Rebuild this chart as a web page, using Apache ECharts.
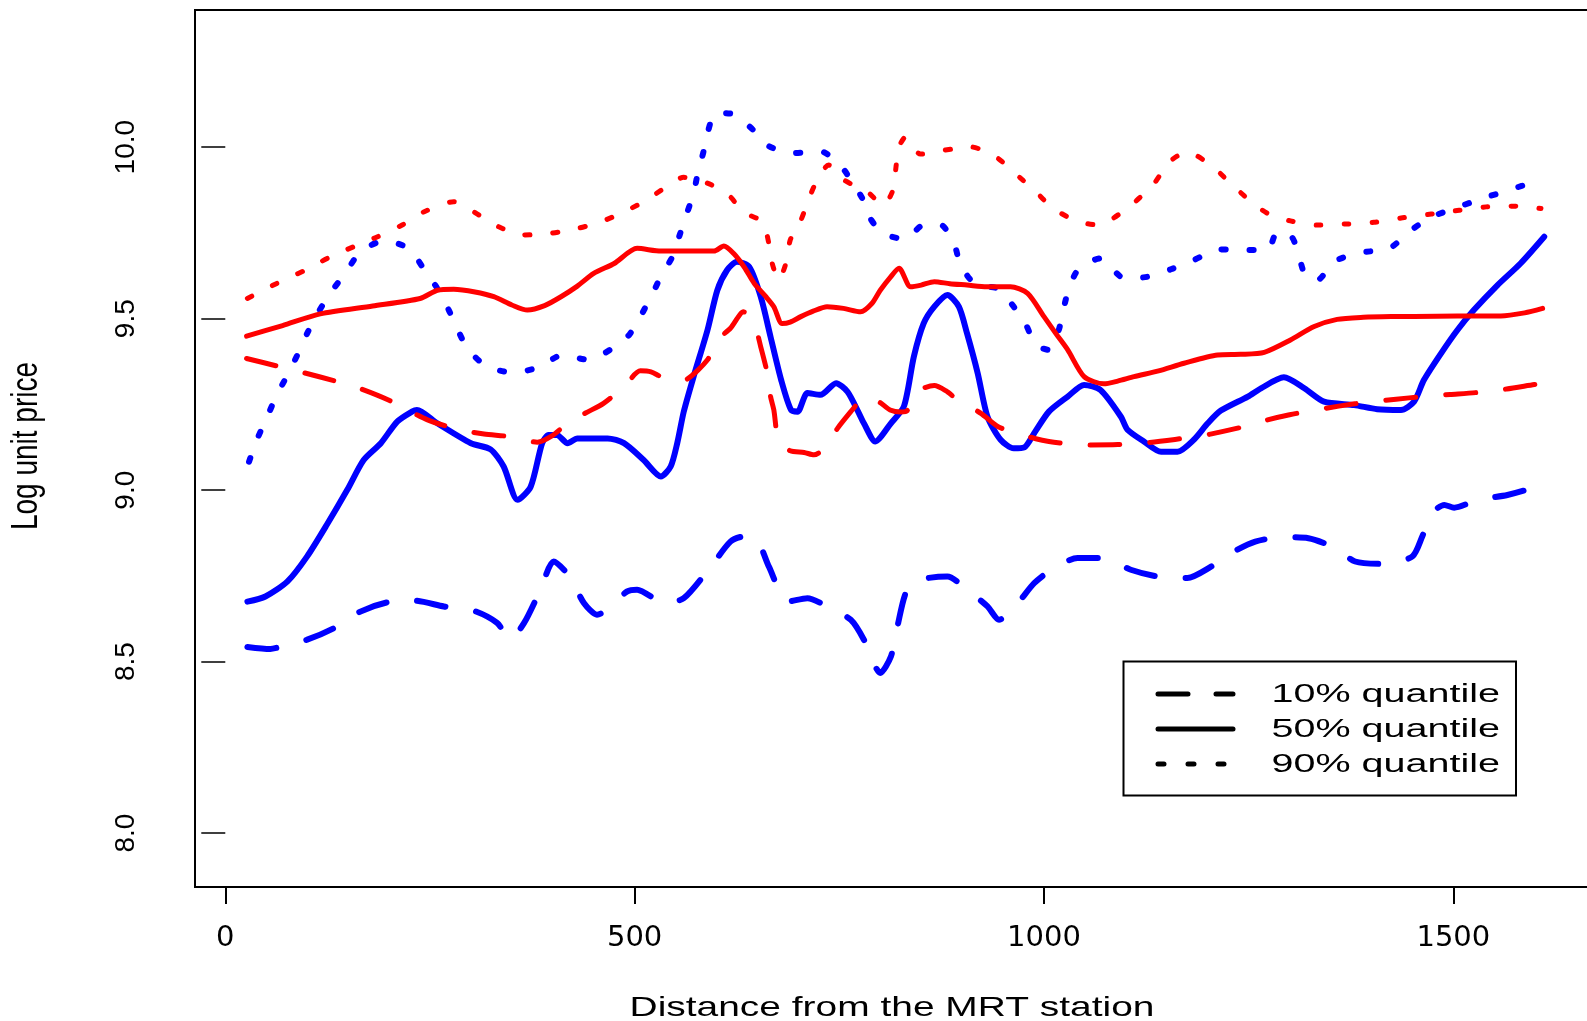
<!DOCTYPE html>
<html><head><meta charset="utf-8">
<script src="https://cdn.jsdelivr.net/npm/echarts@6.0.0/dist/echarts.min.js"></script>
<style>html,body{margin:0;padding:0;background:#fff;overflow:hidden}#chart{width:1587px;height:1021px}</style>
</head><body><div id="chart"></div>
<script>
const xTicks = [0, 500, 1000, 1500];
const xTickLabels = ['0', '500', '1000', '1500'];
const yTicks = [8.0, 8.5, 9.0, 9.5, 10.0];
const yTickLabels = ['8.0', '8.5', '9.0', '9.5', '10.0'];
const xTitle = 'Distance from the MRT station';
const yTitle = 'Log unit price';
const legendLabels = ['10% quantile', '50% quantile', '90% quantile'];

const red50 = [[26,9.449],[70,9.48],[116,9.514],[180,9.537],[238,9.559],[259,9.583],[279,9.586],[305,9.578],[328,9.564],[350,9.540],[369,9.525],[390,9.538],[410,9.564],[430,9.595],[450,9.632],[475,9.661],[503,9.705],[532,9.697],[565,9.697],[597,9.697],[609,9.712],[621,9.690],[634,9.650],[646,9.603],[660,9.565],[670,9.535],[680,9.486],[690,9.490],[703,9.506],[718,9.522],[735,9.535],[755,9.530],[776,9.520],[790,9.545],[800,9.583],[812,9.620],[823,9.647],[837,9.593],[850,9.598],[866,9.608],[885,9.602],[906,9.598],[930,9.593],[959,9.593],[980,9.574],[1000,9.506],[1015,9.455],[1029,9.409],[1049,9.331],[1073,9.310],[1090,9.318],[1110,9.331],[1140,9.348],[1171,9.370],[1212,9.394],[1240,9.396],[1269,9.402],[1301,9.438],[1330,9.477],[1358,9.498],[1390,9.504],[1424,9.506],[1480,9.507],[1530,9.508],[1558,9.508],[1587,9.517],[1609,9.530]];

const red10 = [[26,9.384],[63,9.362],[116,9.330],[160,9.300],[200,9.262],[247,9.205],[287,9.176],[316,9.164],[348,9.156],[381,9.140],[400,9.160],[418,9.195],[440,9.225],[462,9.253],[487,9.302],[507,9.348],[520,9.345],[532,9.331],[550,9.318],[565,9.325],[589,9.380],[601,9.438],[617,9.472],[633,9.520],[646,9.486],[654,9.418],[662,9.341],[666,9.273],[670,9.234],[676,9.142],[690,9.115],[707,9.110],[719,9.103],[733,9.125],[748,9.181],[764,9.229],[776,9.262],[786,9.273],[800,9.255],[812,9.234],[825,9.228],[833,9.232],[847,9.290],[866,9.305],[880,9.290],[892,9.268],[908,9.245],[923,9.224],[944,9.185],[968,9.166],[990,9.150],[1006,9.142],[1030,9.135],[1057,9.132],[1090,9.133],[1128,9.139],[1160,9.148],[1196,9.160],[1244,9.185],[1273,9.205],[1300,9.220],[1328,9.232],[1360,9.245],[1399,9.258],[1430,9.265],[1462,9.273],[1496,9.279],[1530,9.285],[1565,9.295],[1599,9.308],[1611,9.312]];

const red90 = [[27,9.559],[63,9.603],[98,9.642],[128,9.680],[157,9.710],[186,9.739],[216,9.773],[243,9.812],[279,9.841],[310,9.802],[334,9.768],[363,9.744],[397,9.749],[430,9.763],[458,9.782],[483,9.807],[511,9.841],[536,9.880],[560,9.912],[576,9.905],[593,9.891],[617,9.855],[632,9.812],[656,9.782],[664,9.719],[668,9.661],[676,9.613],[686,9.671],[690,9.729],[703,9.787],[713,9.851],[723,9.904],[737,9.948],[756,9.904],[784,9.870],[804,9.831],[817,9.884],[819,9.938],[823,10.001],[831,10.030],[849,9.980],[878,9.991],[910,10.001],[941,9.972],[965,9.923],[988,9.875],[1010,9.824],[1039,9.785],[1067,9.773],[1096,9.812],[1118,9.855],[1136,9.899],[1153,9.957],[1175,9.986],[1206,9.943],[1226,9.899],[1248,9.851],[1273,9.807],[1301,9.785],[1334,9.773],[1369,9.776],[1403,9.781],[1438,9.794],[1473,9.805],[1507,9.816],[1540,9.826],[1574,9.828],[1607,9.821]];

const blue50 = [[27,8.675],[49,8.690],[76,8.734],[100,8.807],[124,8.899],[149,9.001],[169,9.088],[190,9.137],[210,9.200],[228,9.229],[234,9.234],[259,9.195],[300,9.137],[324,9.119],[340,9.069],[357,8.972],[373,9.010],[387,9.137],[395,9.161],[405,9.161],[418,9.137],[430,9.151],[467,9.151],[487,9.137],[511,9.088],[532,9.040],[544,9.069],[552,9.137],[560,9.229],[572,9.331],[589,9.467],[601,9.583],[613,9.642],[625,9.666],[640,9.651],[654,9.564],[666,9.447],[679,9.321],[691,9.234],[699,9.229],[711,9.283],[727,9.278],[746,9.312],[760,9.287],[774,9.224],[780,9.195],[794,9.142],[813,9.195],[829,9.245],[841,9.389],[853,9.486],[866,9.535],[882,9.569],[896,9.535],[906,9.457],[919,9.341],[931,9.214],[947,9.147],[963,9.122],[976,9.125],[988,9.166],[1006,9.229],[1029,9.273],[1049,9.307],[1069,9.292],[1094,9.214],[1102,9.176],[1122,9.142],[1143,9.112],[1163,9.112],[1183,9.147],[1200,9.195],[1216,9.232],[1249,9.273],[1265,9.297],[1293,9.329],[1318,9.297],[1342,9.258],[1379,9.248],[1407,9.236],[1436,9.234],[1452,9.258],[1464,9.321],[1485,9.399],[1505,9.467],[1525,9.525],[1554,9.598],[1582,9.661],[1611,9.739]];

const blue10 = [[27,8.543],[55,8.537],[67,8.543],[100,8.564],[133,8.598],[165,8.646],[198,8.673],[230,8.678],[267,8.661],[304,8.648],[332,8.613],[348,8.566],[365,8.613],[385,8.710],[401,8.792],[420,8.750],[438,8.671],[454,8.637],[491,8.705],[503,8.710],[536,8.671],[560,8.685],[593,8.777],[617,8.850],[633,8.865],[650,8.852],[664,8.777],[687,8.675],[711,8.685],[735,8.661],[764,8.622],[780,8.564],[788,8.515],[800,8.467],[813,8.515],[821,8.603],[832,8.705],[849,8.739],[882,8.748],[906,8.710],[931,8.661],[945,8.622],[968,8.671],[988,8.729],[1012,8.773],[1041,8.802],[1073,8.802],[1106,8.768],[1139,8.748],[1175,8.744],[1204,8.777],[1232,8.821],[1258,8.850],[1291,8.863],[1323,8.860],[1356,8.831],[1380,8.792],[1417,8.785],[1450,8.807],[1462,8.865],[1474,8.933],[1489,8.957],[1501,8.949],[1530,8.972],[1566,8.986],[1595,9.006],[1611,9.030]];

const blue90 = [[29,9.083],[39,9.149],[51,9.213],[63,9.278],[76,9.336],[88,9.394],[100,9.457],[114,9.520],[128,9.574],[147,9.634],[165,9.695],[194,9.727],[224,9.705],[242,9.647],[259,9.588],[273,9.525],[285,9.462],[297,9.409],[320,9.360],[352,9.343],[385,9.360],[411,9.394],[444,9.380],[473,9.414],[493,9.452],[507,9.506],[522,9.574],[534,9.632],[546,9.680],[555,9.744],[563,9.802],[572,9.865],[577,9.923],[584,9.986],[590,10.050],[599,10.100],[621,10.096],[644,10.052],[664,10.003],[693,9.983],[727,9.988],[752,9.945],[768,9.889],[778,9.851],[788,9.792],[803,9.749],[830,9.732],[853,9.773],[874,9.773],[891,9.712],[898,9.656],[917,9.598],[943,9.588],[963,9.535],[978,9.482],[990,9.423],[1006,9.409],[1018,9.467],[1024,9.530],[1031,9.593],[1043,9.647],[1069,9.676],[1098,9.618],[1126,9.622],[1155,9.644],[1183,9.671],[1214,9.702],[1248,9.700],[1273,9.700],[1285,9.753],[1303,9.737],[1312,9.676],[1320,9.622],[1334,9.613],[1354,9.666],[1385,9.692],[1422,9.705],[1444,9.750],[1471,9.794],[1503,9.823],[1536,9.851],[1568,9.875],[1599,9.899],[1609,9.904]];

const FONT = '"Liberation Sans", Arial, sans-serif';

function line(name, data, color, width, type) {
  return {
    name: name, type: 'line', data: data, showSymbol: false, symbol: 'none',
    smooth: 0.25, animation: false, silent: true, clip: true,
    lineStyle: { color: color, width: width, type: type, cap: 'round', join: 'round' }
  };
}

const chart = echarts.init(document.getElementById('chart'), null, { renderer: 'canvas' });

const legY = [694, 729, 764];
const legTypes = [[30, 28], null, [6, 24]];

const graphics = [
  { type: 'text', x: 892, y: 1008, scaleX: 1.39, z: 10,
    style: { text: xTitle, font: '28px ' + FONT, fill: '#000', textAlign: 'center', textVerticalAlign: 'middle', align: 'center', verticalAlign: 'middle' } },
  { type: 'text', x: 27, y: 446, rotation: Math.PI / 2, scaleY: 1.3, z: 10,
    style: { text: yTitle, font: '28px ' + FONT, fill: '#000', textAlign: 'center', textVerticalAlign: 'middle', align: 'center', verticalAlign: 'middle' } },
  { type: 'rect', z: 20, shape: { x: 1123.5, y: 661.5, width: 392.5, height: 134 },
    style: { fill: '#fff', stroke: '#000', lineWidth: 2 } }
];
legendLabels.forEach(function (lab, i) {
  const st = { stroke: '#000', lineWidth: 5, lineCap: 'round' };
  if (legTypes[i]) st.lineDash = legTypes[i];
  graphics.push({ type: 'line', z: 21, shape: { x1: 1158, y1: legY[i], x2: 1233, y2: legY[i] }, style: st });
  graphics.push({ type: 'text', z: 21, x: 1271.5, y: legY[i] + 1, scaleX: 1.52,
    style: { text: lab, font: '26px ' + FONT, fill: '#000', textAlign: 'left', textVerticalAlign: 'middle', align: 'left', verticalAlign: 'middle' } });
});

const option = {
  backgroundColor: '#fff',
  animation: false,
  grid: { left: 195, right: -8, top: 10, bottom: 134, show: true, borderColor: '#000', borderWidth: 2, backgroundColor: 'transparent', containLabel: false, outerBoundsMode: 'none' },
  xAxis: {
    type: 'value', min: -37, max: 1673,
    axisLine: { show: false },
    splitLine: { show: false },
    axisTick: { show: true, length: 17, customValues: xTicks, lineStyle: { color: '#000', width: 2 } },
    axisLabel: { show: true, customValues: xTicks, margin: 37, color: '#000', fontSize: 29, fontFamily: '"DejaVu Sans", sans-serif',
      formatter: function (v) { const k = xTicks.indexOf(v); return k >= 0 ? xTickLabels[k] : ''; } }
  },
  yAxis: {
    type: 'value', min: 7.843, max: 10.4,
    axisLine: { show: false },
    splitLine: { show: false },
    axisTick: { show: true, length: 24, customValues: yTicks, lineStyle: { color: '#000', width: 1.5 } },
    axisLabel: { show: true, customValues: yTicks, rotate: 90, margin: 55, color: '#000', fontSize: 28, fontFamily: FONT,
      formatter: function (v) { for (let k = 0; k < yTicks.length; k++) { if (Math.abs(yTicks[k] - v) < 1e-6) return yTickLabels[k]; } return ''; } }
  },
  series: [
    line('blue 10%', blue10, '#0000FF', 6, [29, 31]),
    line('blue 50%', blue50, '#0000FF', 6, 'solid'),
    line('blue 90%', blue90, '#0000FF', 6, [4, 24]),
    line('red 10%', red10, '#FF0000', 5, [30, 30]),
    line('red 50%', red50, '#FF0000', 5, 'solid'),
    line('red 90%', red90, '#FF0000', 5, [5, 23])
  ],
  graphic: graphics
};
chart.setOption(option);
</script>
</body></html>
